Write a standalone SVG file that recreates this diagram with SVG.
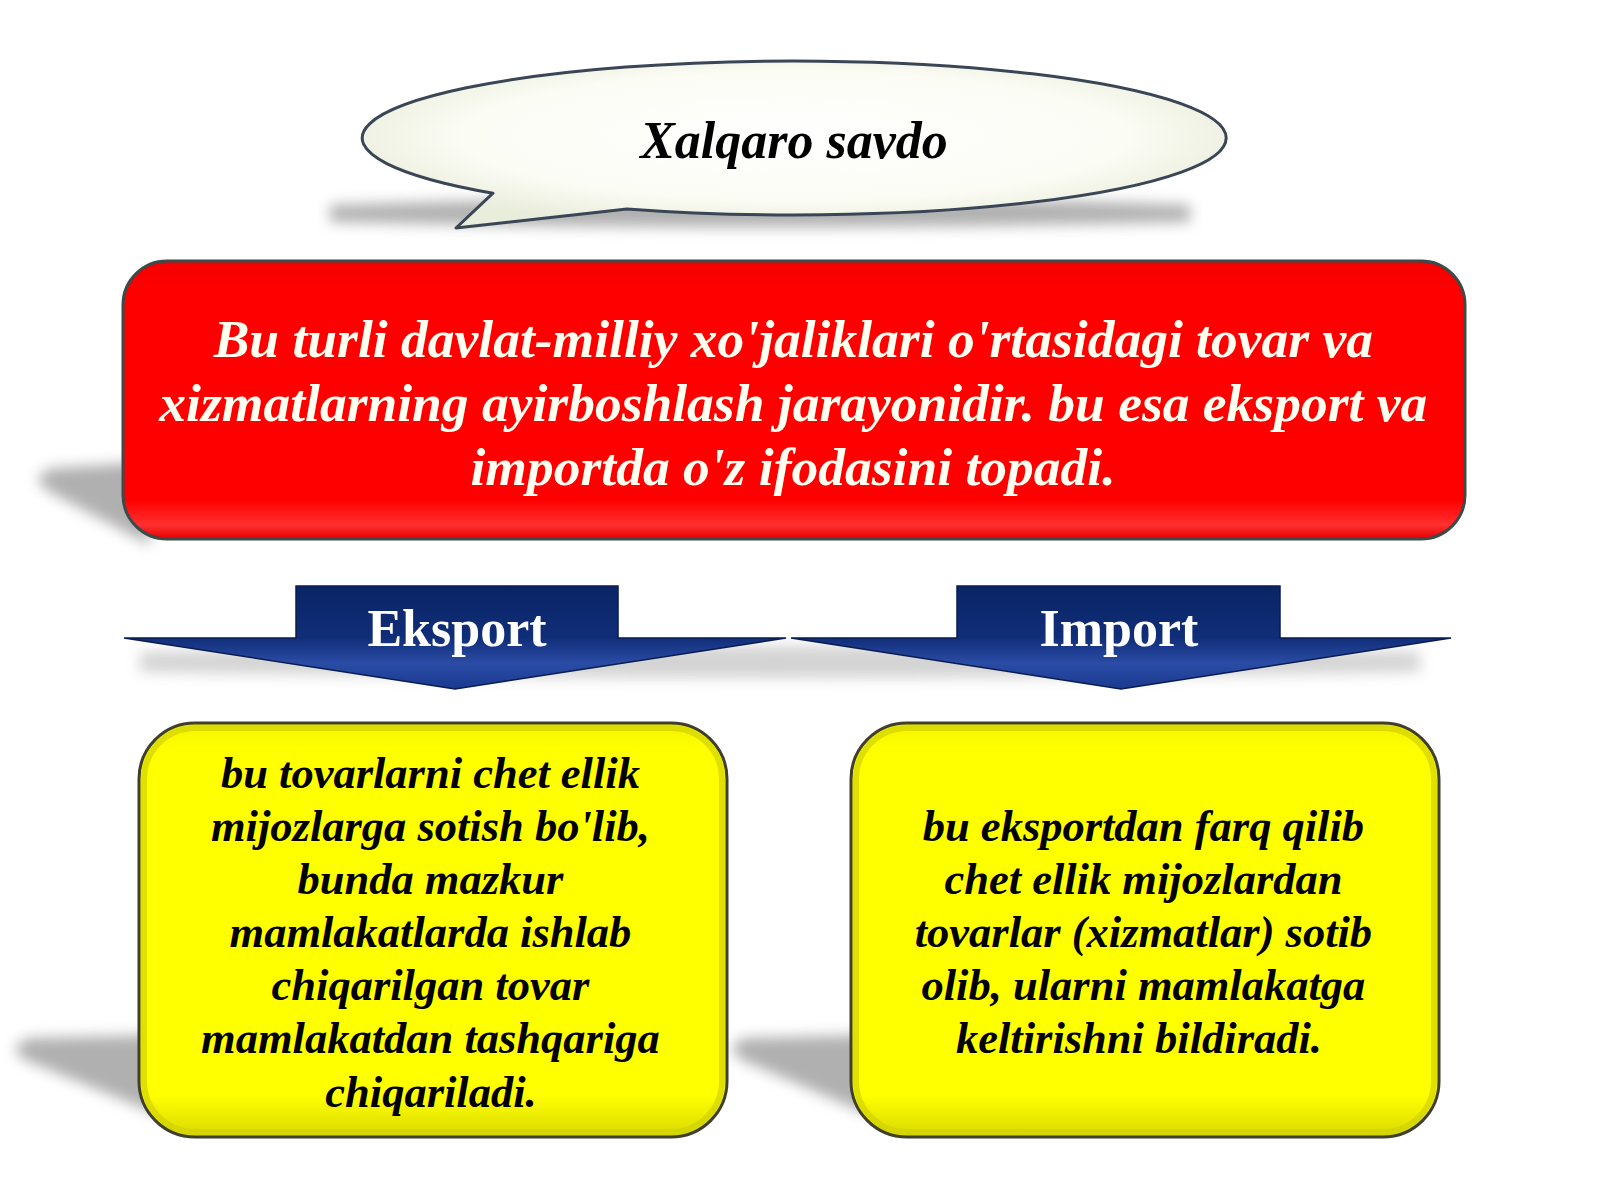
<svg xmlns="http://www.w3.org/2000/svg" width="1600" height="1200" viewBox="0 0 1600 1200">
<defs>
<style>
.serif{font-family:"Liberation Serif","Times New Roman",serif;}
.bi{font-weight:bold;font-style:italic;}
.title{font-size:52px;fill:#000;}
.red{font-size:53.5px;fill:#fffff2;}
.lab{font-size:52px;font-weight:bold;fill:#fff;}
.yel{font-size:44.5px;fill:#000;}
.shadow{fill:#707070;opacity:0.55;filter:url(#blur);}
.bevel{fill:none;stroke:#d2d200;stroke-width:6;opacity:0.7;}
</style>
<filter id="blur" x="-20%" y="-50%" width="140%" height="200%"><feGaussianBlur stdDeviation="7"/></filter>
<radialGradient id="gEll" cx="50%" cy="45%" r="55%">
<stop offset="0" stop-color="#ffffff"/>
<stop offset="0.7" stop-color="#fbfcf4"/>
<stop offset="1" stop-color="#e9eddc"/>
</radialGradient>
<linearGradient id="gRed" x1="0" y1="0" x2="0" y2="1">
<stop offset="0" stop-color="#f40000"/>
<stop offset="0.1" stop-color="#ff0000"/>
<stop offset="0.86" stop-color="#ff0000"/>
<stop offset="0.95" stop-color="#ff3030"/>
<stop offset="1" stop-color="#e40000"/>
</linearGradient>
<linearGradient id="gYel" x1="0" y1="0" x2="0" y2="1">
<stop offset="0" stop-color="#f2f200"/>
<stop offset="0.06" stop-color="#ffff00"/>
<stop offset="0.9" stop-color="#ffff00"/>
<stop offset="1" stop-color="#d8d800"/>
</linearGradient>
<linearGradient id="gArrow" gradientUnits="userSpaceOnUse" x1="0" y1="586" x2="0" y2="689">
<stop offset="0" stop-color="#0a2565"/>
<stop offset="0.5" stop-color="#102d78"/>
<stop offset="0.75" stop-color="#2b4ca6"/>
<stop offset="1" stop-color="#1a3a90"/>
</linearGradient>
</defs>
<rect width="1600" height="1200" fill="#ffffff"/>

<g id="shadows">
<path class="shadow" d="M330 205 Q780 190 1190 205 L1190 222 Q780 232 330 222 Z"/>
<path class="shadow" d="M150 462 L55 468 Q25 476 50 492 L150 545 Z"/>
<path class="shadow" d="M140 652 Q780 640 1420 652 L1420 672 Q780 684 140 672 Z" style="opacity:0.3"/>
<path class="shadow" d="M160 1035 L30 1038 Q5 1046 25 1060 L160 1115 Z"/>
<path class="shadow" d="M870 1035 L745 1038 Q722 1046 742 1060 L870 1115 Z"/>
</g>

<g id="title">
<path d="M493 193.2 L456 228 L627 209 A432 77 0 1 0 493 193.2 Z" fill="url(#gEll)" stroke="#3a4656" stroke-width="3" stroke-linejoin="round"/>
<text class="serif bi title" x="794" y="158" text-anchor="middle">Xalqaro savdo</text>
</g>

<g id="definition">
<rect x="123" y="261" width="1342" height="278" rx="44" fill="url(#gRed)" stroke="#3c4a4a" stroke-width="3"/>
<text class="serif bi red" text-anchor="middle">
<tspan x="800" y="357">Bu turli davlat-milliy xo'jaliklari o'rtasidagi tovar va</tspan>
<tspan x="800" y="421">xizmatlarning ayirboshlash jarayonidir. bu esa eksport va</tspan>
<tspan x="793" y="485">importda o'z ifodasini topadi.</tspan>
</text>
</g>

<g id="eksport">
<path d="M124 638 L296 638 L296 586 L618 586 L618 638 L786 638 L455 689 Z" fill="url(#gArrow)" stroke="#0a1d50" stroke-width="1.5" stroke-linejoin="miter"/>
<text class="serif lab" x="457" y="646" text-anchor="middle">Eksport</text>
</g>

<g id="import">
<path d="M791 638 L957 638 L957 586 L1280 586 L1280 638 L1451 638 L1121 689 Z" fill="url(#gArrow)" stroke="#0a1d50" stroke-width="1.5" stroke-linejoin="miter"/>
<text class="serif lab" x="1119" y="646" text-anchor="middle">Import</text>
</g>

<g id="connectors"></g>

<g id="eksport-desc">
<rect x="139" y="723" width="588" height="414" rx="56" fill="url(#gYel)" stroke="#3f3f2c" stroke-width="3"/>
<rect class="bevel" x="144" y="728" width="578" height="404" rx="51"/>
<text class="serif bi yel" text-anchor="middle">
<tspan x="436" y="788">bu tovarlarni chet ellik</tspan>
<tspan x="436" y="841">mijozlarga sotish bo'lib,</tspan>
<tspan x="436" y="894">bunda mazkur</tspan>
<tspan x="436" y="947">mamlakatlarda ishlab</tspan>
<tspan x="436" y="1000">chiqarilgan tovar</tspan>
<tspan x="436" y="1053">mamlakatdan tashqariga</tspan>
<tspan x="431" y="1107">chiqariladi.</tspan>
</text>
</g>

<g id="import-desc">
<rect x="851" y="723" width="588" height="414" rx="56" fill="url(#gYel)" stroke="#3f3f2c" stroke-width="3"/>
<rect class="bevel" x="856" y="728" width="578" height="404" rx="51"/>
<text class="serif bi yel" text-anchor="middle">
<tspan x="1149" y="841">bu eksportdan farq qilib</tspan>
<tspan x="1149" y="894">chet ellik mijozlardan</tspan>
<tspan x="1149" y="947">tovarlar (xizmatlar) sotib</tspan>
<tspan x="1149" y="1000">olib, ularni mamlakatga</tspan>
<tspan x="1139" y="1053">keltirishni bildiradi.</tspan>
</text>
</g>
</svg>
